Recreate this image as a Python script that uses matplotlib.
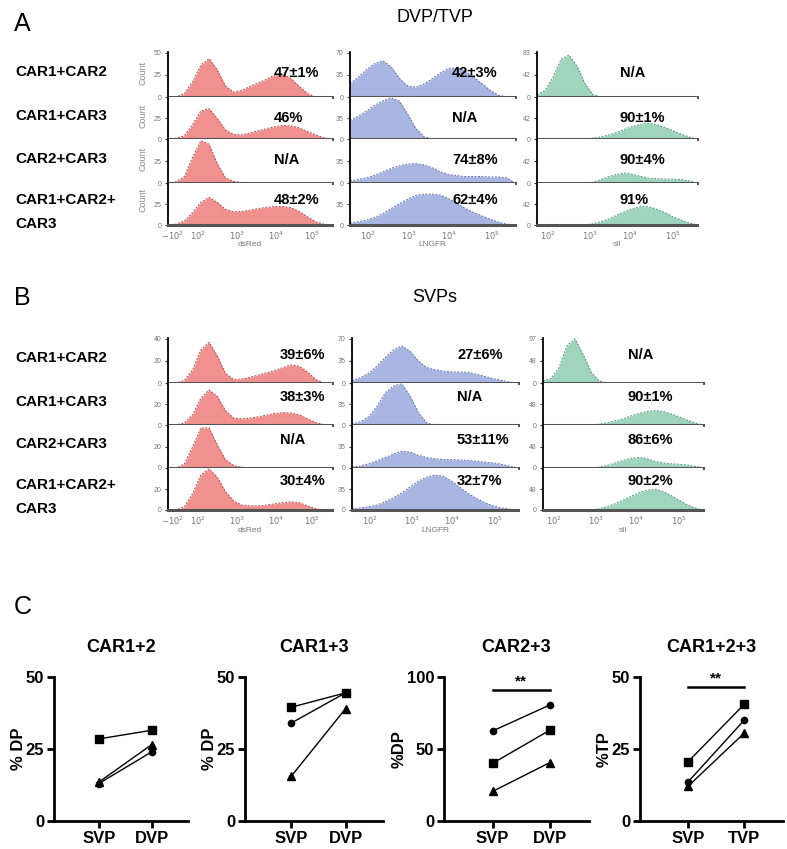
import matplotlib.pyplot as plt

plt.rcParams['font.family'] = ['Liberation Sans', 'DejaVu Sans']

W, H = 787, 849

# ---- panel A / B : flow histograms (normalised x grid 0..1, height as fraction of row) ----
hist_x = [0.00, 0.05, 0.10, 0.15, 0.20, 0.25, 0.30, 0.35, 0.40, 0.45, 0.50,
          0.55, 0.60, 0.65, 0.70, 0.75, 0.80, 0.85, 0.90, 0.95, 1.00]

row_labels = ['CAR1+CAR2', 'CAR1+CAR3', 'CAR2+CAR3', 'CAR1+CAR2+\nCAR3']
channels = ['dsRed', 'LNGFR', 'sII']

dvp_red = [
    [0, 0, 0.08, 0.35, 0.72, 0.87, 0.62, 0.25, 0.11, 0.15, 0.24, 0.32, 0.40, 0.50, 0.52, 0.42, 0.24, 0.08, 0, 0, 0],
    [0, 0.02, 0.08, 0.35, 0.68, 0.74, 0.50, 0.22, 0.11, 0.10, 0.15, 0.20, 0.25, 0.30, 0.33, 0.32, 0.27, 0.18, 0.10, 0.03, 0],
    [0, 0.03, 0.15, 0.60, 0.98, 0.90, 0.45, 0.12, 0.04, 0.01, 0, 0, 0, 0, 0, 0, 0, 0, 0, 0, 0],
    [0, 0.02, 0.10, 0.30, 0.55, 0.67, 0.55, 0.38, 0.32, 0.33, 0.36, 0.40, 0.43, 0.45, 0.45, 0.42, 0.33, 0.20, 0.08, 0.02, 0],
]
dvp_blue = [
    [0.30, 0.45, 0.62, 0.76, 0.82, 0.68, 0.42, 0.25, 0.22, 0.30, 0.42, 0.55, 0.65, 0.66, 0.58, 0.45, 0.30, 0.15, 0.04, 0, 0],
    [0.45, 0.55, 0.68, 0.82, 0.93, 1.00, 0.92, 0.60, 0.25, 0.05, 0, 0, 0, 0, 0, 0, 0, 0, 0, 0, 0],
    [0.05, 0.08, 0.12, 0.18, 0.26, 0.34, 0.40, 0.44, 0.45, 0.42, 0.35, 0.25, 0.20, 0.17, 0.15, 0.15, 0.15, 0.14, 0.14, 0.12, 0],
    [0.05, 0.08, 0.12, 0.18, 0.28, 0.40, 0.52, 0.63, 0.72, 0.75, 0.75, 0.72, 0.64, 0.52, 0.40, 0.30, 0.22, 0.14, 0.07, 0.02, 0],
]
dvp_green = [
    [0.05, 0.15, 0.45, 0.85, 0.95, 0.70, 0.30, 0.05, 0, 0, 0, 0, 0, 0, 0, 0, 0, 0, 0, 0, 0],
    [0, 0, 0, 0, 0, 0, 0, 0.02, 0.05, 0.10, 0.16, 0.24, 0.31, 0.36, 0.38, 0.35, 0.28, 0.20, 0.12, 0.05, 0],
    [0, 0, 0, 0, 0, 0, 0, 0.02, 0.08, 0.15, 0.20, 0.23, 0.20, 0.15, 0.11, 0.10, 0.09, 0.09, 0.08, 0.05, 0],
    [0, 0, 0, 0, 0, 0, 0, 0.03, 0.08, 0.15, 0.24, 0.33, 0.40, 0.45, 0.44, 0.38, 0.30, 0.20, 0.12, 0.05, 0],
]
svp_red = [
    [0, 0, 0.06, 0.30, 0.75, 0.92, 0.62, 0.22, 0.08, 0.09, 0.13, 0.18, 0.23, 0.28, 0.35, 0.41, 0.38, 0.25, 0.08, 0, 0],
    [0, 0, 0.05, 0.25, 0.65, 0.85, 0.70, 0.35, 0.17, 0.15, 0.17, 0.20, 0.24, 0.28, 0.30, 0.29, 0.25, 0.15, 0.06, 0.01, 0],
    [0, 0, 0.10, 0.50, 0.95, 0.95, 0.55, 0.20, 0.06, 0.02, 0, 0, 0, 0, 0, 0, 0, 0, 0, 0, 0],
    [0, 0, 0.08, 0.40, 0.85, 1.00, 0.80, 0.45, 0.22, 0.12, 0.10, 0.10, 0.12, 0.15, 0.18, 0.20, 0.18, 0.10, 0.03, 0, 0],
]
svp_blue = [
    [0.05, 0.12, 0.22, 0.38, 0.58, 0.75, 0.84, 0.72, 0.50, 0.35, 0.30, 0.27, 0.25, 0.25, 0.24, 0.20, 0.15, 0.10, 0.06, 0.02, 0],
    [0.02, 0.08, 0.20, 0.45, 0.78, 0.95, 1.00, 0.70, 0.30, 0.05, 0, 0, 0, 0, 0, 0, 0, 0, 0, 0, 0],
    [0.02, 0.05, 0.10, 0.17, 0.25, 0.33, 0.40, 0.38, 0.30, 0.25, 0.22, 0.20, 0.20, 0.19, 0.18, 0.16, 0.14, 0.12, 0.09, 0.04, 0],
    [0.03, 0.05, 0.08, 0.12, 0.20, 0.30, 0.42, 0.56, 0.70, 0.80, 0.85, 0.82, 0.70, 0.55, 0.40, 0.28, 0.18, 0.10, 0.05, 0.02, 0],
]
svp_green = [
    [0.05, 0.10, 0.35, 0.85, 1.00, 0.65, 0.25, 0.05, 0, 0, 0, 0, 0, 0, 0, 0, 0, 0, 0, 0, 0],
    [0, 0, 0, 0, 0, 0, 0, 0.02, 0.05, 0.10, 0.15, 0.22, 0.28, 0.33, 0.35, 0.33, 0.27, 0.20, 0.12, 0.05, 0],
    [0, 0, 0, 0, 0, 0, 0, 0.02, 0.06, 0.12, 0.18, 0.23, 0.25, 0.22, 0.16, 0.12, 0.10, 0.09, 0.07, 0.04, 0],
    [0, 0, 0, 0, 0, 0, 0, 0.03, 0.08, 0.15, 0.24, 0.33, 0.42, 0.48, 0.50, 0.45, 0.35, 0.24, 0.13, 0.05, 0],
]

dvp_pct = [['47±1%', '46%', 'N/A', '48±2%'],
           ['42±3%', 'N/A', '74±8%', '62±4%'],
           ['N/A', '90±1%', '90±4%', '91%']]
svp_pct = [['39±6%', '38±3%', 'N/A', '30±4%'],
           ['27±6%', 'N/A', '53±11%', '32±7%'],
           ['N/A', '90±1%', '86±6%', '90±2%']]

dvp_yticks = [['50', '25', '0'], ['70', '35', '0'], ['83', '42', '0']]
svp_yticks = [['40', '20', '0'], ['70', '35', '0'], ['97', '48', '0']]

xtick_text = [[r'$-10^2$', r'$10^2$', r'$10^3$', r'$10^4$', r'$10^5$'],
              [r'$10^2$', r'$10^3$', r'$10^4$', r'$10^5$'],
              [r'$10^2$', r'$10^3$', r'$10^4$', r'$10^5$']]
xtick_pos = [[0.03, 0.18, 0.42, 0.66, 0.88],
             [0.11, 0.36, 0.60, 0.86],
             [0.07, 0.33, 0.58, 0.85]]

fills = ['#f0908f', '#a9b6e1', '#9fd4bd']
edges = ['#b94848', '#5a6fb5', '#4a9676']

# ---- panel C : paired dot plots ----
c_titles = ['CAR1+2', 'CAR1+3', 'CAR2+3', 'CAR1+2+3']
c_groups = [['SVP', 'DVP'], ['SVP', 'DVP'], ['SVP', 'DVP'], ['SVP', 'TVP']]
c_ylabels = ['% DP', '% DP', '%DP', '%TP']
c_ymax = [50, 50, 100, 50]
c_square = [[28.5, 31.5], [39.5, 44.5], [40, 63], [20.5, 40.5]]
c_circle = [[13, 24], [34, 44.5], [62.5, 80.5], [13.5, 35]]
c_triangle = [[13.5, 26.5], [15.5, 39], [20.5, 40.5], [12, 30.5]]
c_sig = [None, None, 91, 46.5]


def px_rect(l, t, r, b):
    return [l / W, 1 - b / H, (r - l) / W, (b - t) / H]


def fig_text(x, y, s, **kw):
    fig.text(x / W, 1 - y / H, s, **kw)


def hist_block(rows, cols, curves, pct, pct_x, pct_y, yticks, label_y, tick_y):
    for c, (l, r) in enumerate(cols):
        for i in range(4):
            ax = fig.add_axes(px_rect(l, rows[i], r, rows[i + 1]))
            ax.fill_between(hist_x, curves[c][i], color=fills[c], lw=0)
            ax.plot(hist_x, curves[c][i], color=edges[c], lw=0.7, ls=(0, (2, 1.5)))
            ax.set_xlim(0, 1)
            ax.set_ylim(0, 1.02)
            for s in ['top', 'right']:
                ax.spines[s].set_visible(False)
            ax.spines['left'].set_linewidth(1.3)
            ax.spines['bottom'].set_linewidth(2.2)
            ax.spines['bottom'].set_color('#555555')
            if i == 0:
                ax.set_yticks([1, 0.5, 0])
                ax.set_yticklabels(yticks[c])
            else:
                ax.set_yticks([0.5, 0])
                ax.set_yticklabels(yticks[c][1:])
            ax.tick_params(axis='y', length=2.5, width=0.8, labelsize=5, colors='#333333',
                           labelcolor='#777777', pad=2)
            ax.set_xticks([])
            fig_text(l + pct_x[c], pct_y[i], pct[c][i], fontsize=10.5, fontweight='bold',
                     va='center', ha='left')
        # bottom tick labels + channel name
        for p, t in zip(xtick_pos[c], xtick_text[c]):
            fig_text(l + p * (r - l), tick_y, t, fontsize=6, color='#777777',
                     ha='center', va='center')
        fig_text((l + r) / 2, label_y, channels[c], fontsize=6, color='#777777',
                 ha='center', va='center')


fig = plt.figure(figsize=(W / 100, H / 100), dpi=100)

# Panel A
fig_text(14, 24, 'A', fontsize=18, va='center')
fig_text(435, 18, 'DVP/TVP', fontsize=13, ha='center', va='center')
a_rows = [52, 97, 139, 183, 225]
hist_block(a_rows, [(168, 332), (350, 515), (537, 697)],
           [dvp_red, dvp_blue, dvp_green], dvp_pct, [106, 102, 83],
           [73, 118, 160, 200], dvp_yticks, 245, 236)
for i, lab in enumerate(row_labels):
    yc = (a_rows[i] + a_rows[i + 1]) / 2 + (8 if i == 3 else -2)
    fig_text(15, yc, lab, fontsize=11, fontweight='bold', va='center', linespacing=1.9)
    fig_text(143, yc - (12 if i == 3 else 0), 'Count', fontsize=6.5, color='#8a8a8a',
             rotation=90, ha='center', va='center')

# Panel B
fig_text(14, 298, 'B', fontsize=18, va='center')
fig_text(435, 298, 'SVPs', fontsize=13, ha='center', va='center')
b_rows = [338, 383, 425, 468, 510]
hist_block(b_rows, [(168, 332), (352, 518), (543, 703)],
           [svp_red, svp_blue, svp_green], svp_pct, [112, 105, 85],
           [355, 397, 440, 481], svp_yticks, 531, 521)
for i, lab in enumerate(row_labels):
    yc = (b_rows[i] + b_rows[i + 1]) / 2 + (8 if i == 3 else -2)
    fig_text(15, yc, lab, fontsize=11, fontweight='bold', va='center', linespacing=1.9)

# Panel C
fig_text(14, 607, 'C', fontsize=18, va='center')
c_cols = [(54, 188), (245, 383), (444, 589), (640, 783)]
for k, (l, r) in enumerate(c_cols):
    ax = fig.add_axes(px_rect(l, 677, r, 821))
    pos = [0, 1]
    for vals, m, ms in [(c_square[k], 's', 5.5), (c_circle[k], 'o', 4.5), (c_triangle[k], '^', 5.5)]:
        ax.plot(pos, vals, color='black', lw=1, marker=m, ms=ms)
    if c_sig[k] is not None:
        ax.plot([0, 1], [c_sig[k], c_sig[k]], color='black', lw=1.8, clip_on=False)
        ax.text(0.5, c_sig[k] + c_ymax[k] * 0.01, '**', fontsize=11, fontweight='bold',
                ha='center', va='bottom')
    ax.set_xlim(-0.85, 1.69)
    ax.set_ylim(0, c_ymax[k])
    ax.set_yticks([0, c_ymax[k] / 2, c_ymax[k]])
    ax.set_yticklabels(['0', str(c_ymax[k] // 2), str(c_ymax[k])])
    ax.set_xticks(pos)
    ax.set_xticklabels(c_groups[k])
    for s in ['top', 'right']:
        ax.spines[s].set_visible(False)
    for s in ['left', 'bottom']:
        ax.spines[s].set_linewidth(2)
    ax.tick_params(length=5, width=2, labelsize=12, pad=2)
    for t in ax.get_xticklabels() + ax.get_yticklabels():
        t.set_fontweight('bold')
    ax.set_ylabel(c_ylabels[k], fontsize=12, fontweight='bold', labelpad=0)
    ax.set_title(c_titles[k], fontsize=13, fontweight='bold', pad=18)

fig.savefig('out.png', dpi=100)
